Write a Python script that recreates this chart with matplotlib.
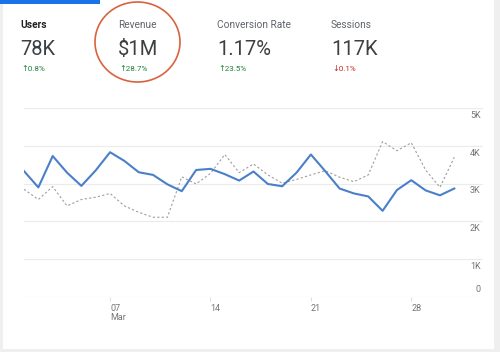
import matplotlib
matplotlib.use("Agg")
import matplotlib.pyplot as plt
from matplotlib.patches import Ellipse, Rectangle

plt.rcParams['font.family'] = ['Roboto', 'DejaVu Sans']

# ---- data ----
days = list(range(1, 32))
current = [3330, 2900, 3730, 3290, 2940, 3350, 3830, 3600, 3300, 3230,
           2980, 2800, 3360, 3390, 3250, 3080, 3320, 2990, 2930, 3290,
           3770, 3330, 2870, 2740, 2660, 2280, 2830, 3090, 2820, 2690, 2870]
previous = [2850, 2580, 2920, 2410, 2580, 2640, 2740, 2410, 2240, 2110,
            2110, 3180, 2990, 3270, 3770, 3290, 3520, 3230, 3010, 3110,
            3230, 3340, 3170, 3050, 3230, 4110, 3870, 4080, 3360, 2900, 3700]
yticks = [0, 1000, 2000, 3000, 4000, 5000]
ytick_labels = ["0", "1K", "2K", "3K", "4K", "5K"]
xticks = [7, 14, 21, 28]
xtick_labels = ["07\nMar", "14", "21", "28"]

metrics = ["Users", "Revenue", "Conversion Rate", "Sessions"]
values = ["78K", "$1M", "1.17%", "117K"]
changes = ["\u21910.8%", "\u219128.7%", "\u219123.5%", "\u21930.1%"]
metric_x = [20, 118, 217, 331]

W, H = 500, 352
fig = plt.figure(figsize=(W / 100, H / 100), dpi=100)
fig.patch.set_facecolor("#efefef")


def px(x, y):
    return x / W, 1 - y / H


# card background and top tab bar
fig.patches.append(Rectangle(px(3, 349), 491 / W, 349 / H, transform=fig.transFigure,
                             facecolor="white", edgecolor="none", zorder=0))
fig.patches.append(Rectangle(px(0, 4), 100 / W, 4 / H, transform=fig.transFigure,
                             facecolor="#1a73e8", edgecolor="none", zorder=1))

# header metrics
for i, (m, v, c) in enumerate(zip(metrics, values, changes)):
    x = metric_x[i]
    if i == 0:
        fig.text(*px(x, 27.5), m, fontsize=7.3, color="#202124", weight="bold", va="baseline")
    else:
        fig.text(*px(x, 27.5), m, fontsize=7.3, color="#5f6368", va="baseline")
    fig.text(*px(x, 55), v, fontsize=14.5, color="#3c4043", va="baseline")
    col = "#c5221f" if c.startswith("\u2193") else "#188038"
    fig.text(*px(x + 1, 71), c, fontsize=5.8, color=col, va="baseline")

# red circle around Revenue
fig.patches.append(Ellipse(px(137.5, 42), 85 / W, 80 / H, transform=fig.transFigure,
                           facecolor="none", edgecolor="#d9623f", linewidth=1.2, zorder=5))

# ---- chart ----
ax = fig.add_axes([24 / W, (H - 297) / H, 459 / W, 189 / H])
ax.set_zorder(3)
ax.set_facecolor("none")
ax.plot(days, previous, color="#9e9e9e", linewidth=0.8, linestyle=(0, (2, 2)))
ax.plot(days, current, color="#4a7fc9", linewidth=1.5)
ax.set_xlim(1, 33)
ax.set_ylim(0, 5000)

for y in yticks:
    ax.axhline(y, color="#ebebeb", linewidth=0.8, zorder=0)
for y, lab in zip(yticks, ytick_labels):
    if y == 0:
        ax.annotate(lab, (0.995, y), xycoords=("axes fraction", "data"),
                    xytext=(0, 2), textcoords="offset points",
                    ha="right", va="bottom", fontsize=6.5, color="#757575")
    else:
        ax.annotate(lab, (0.995, y), xycoords=("axes fraction", "data"),
                    xytext=(0, -2), textcoords="offset points",
                    ha="right", va="top", fontsize=6.5, color="#757575")

ax.set_xticks(xticks)
ax.set_xticklabels(xtick_labels, fontsize=6.5, color="#757575", ha="left",
                   linespacing=1.0)
ax.tick_params(axis="x", length=3, color="#e0e0e0", pad=2)
ax.set_yticks([])
for s in ax.spines.values():
    s.set_visible(False)

fig.savefig("out.png", dpi=100, facecolor=fig.get_facecolor())
